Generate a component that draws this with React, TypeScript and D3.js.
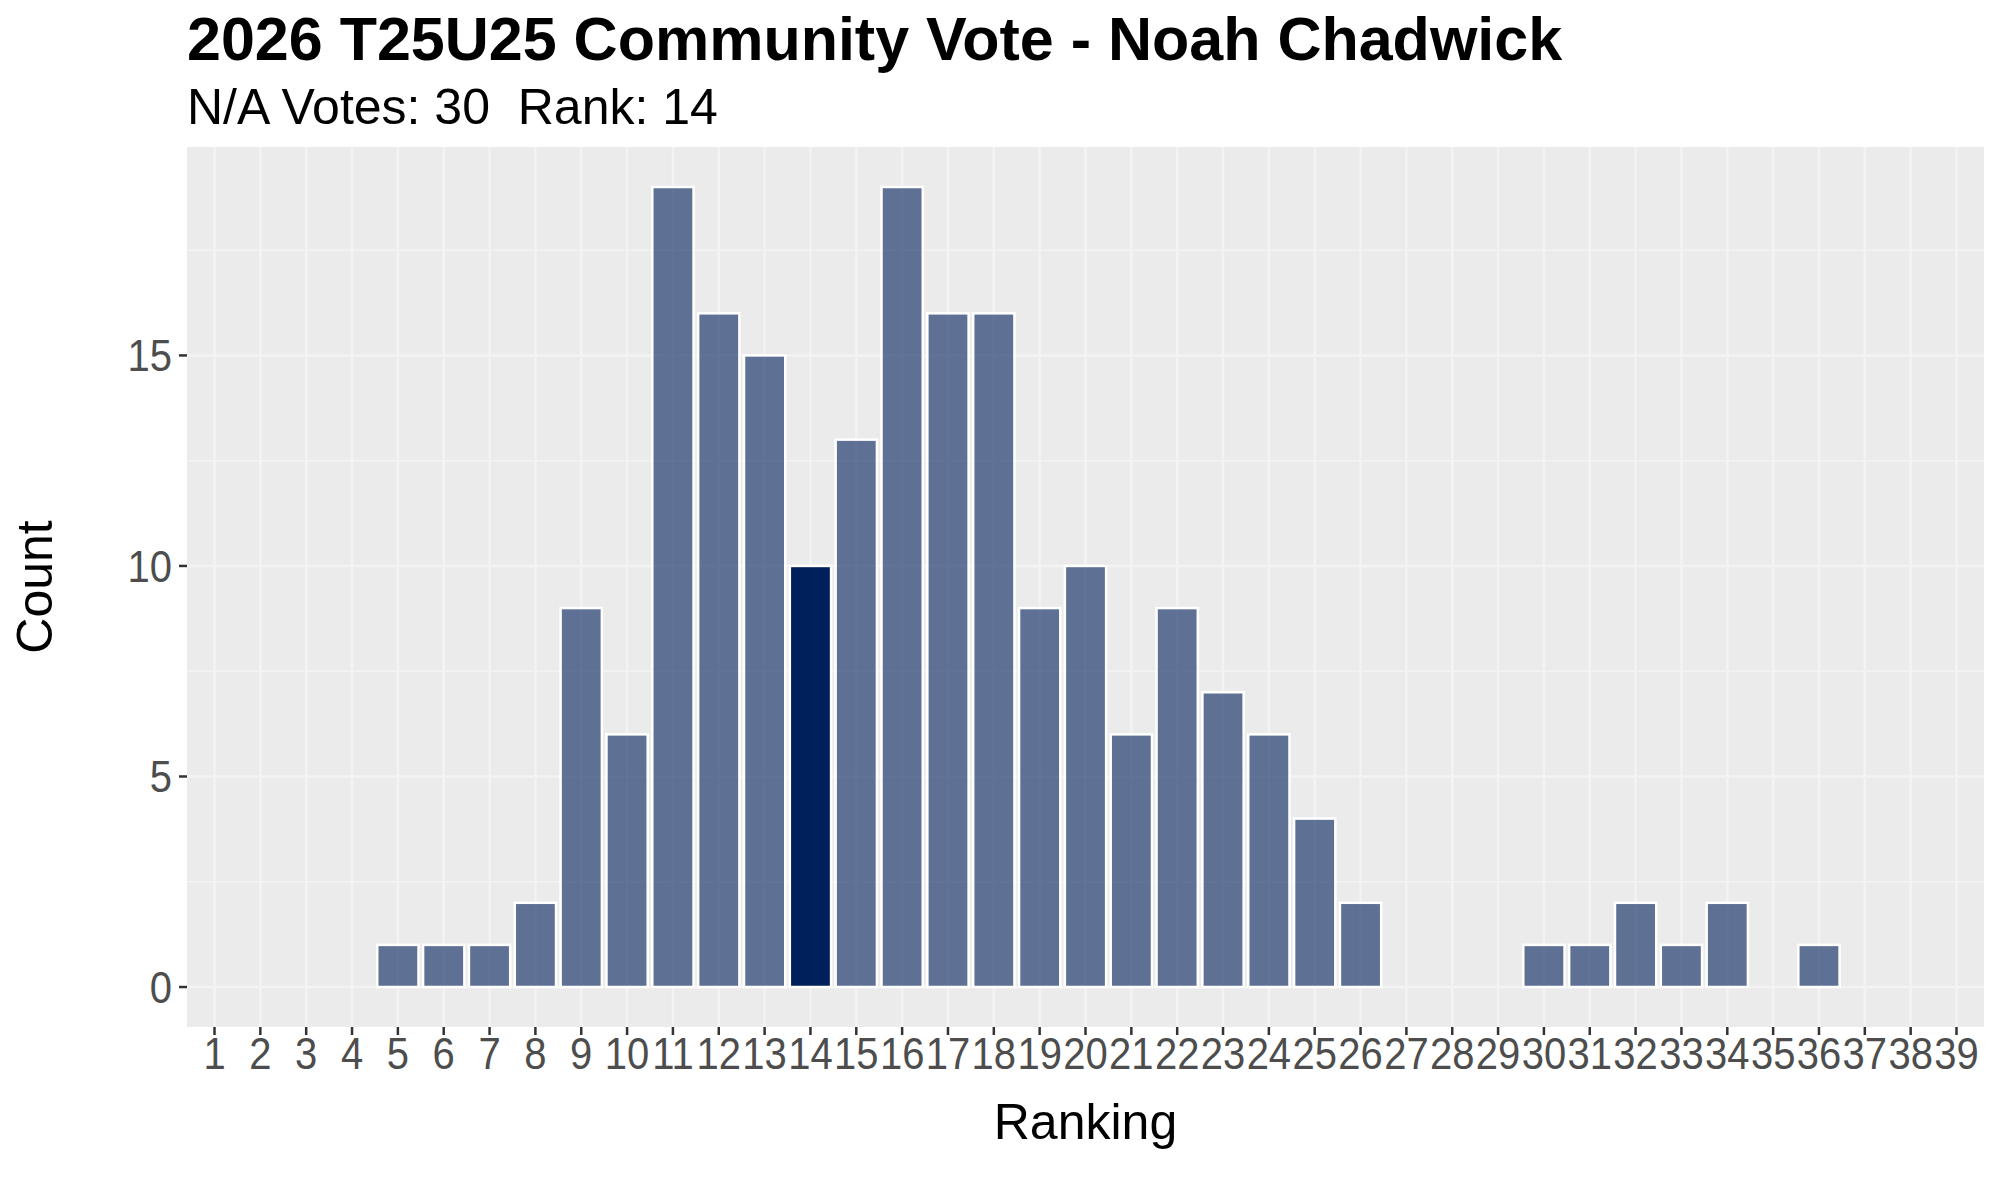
import { range, scaleBand, scaleLinear } from "d3";

const title = "2026 T25U25 Community Vote - Noah Chadwick";
const subtitle = "N/A Votes: 30  Rank: 14";

const rankings = range(1, 40).map(String);
const counts = [
  0, 0, 0, 0, 1, 1, 1, 2, 9, 6, 19, 16, 15, 10, 13, 19, 16, 16, 9, 10, 6, 9, 7, 6, 4, 2, 0, 0, 0, 1, 1,
  2, 1, 2, 0, 1, 0, 0, 0,
];
const highlightRank = "14";
const yTicks = [0, 5, 10, 15];
const yMinor = [2.5, 7.5, 12.5, 17.5];

const width = 2000;
const height = 1200;
const font = "'Liberation Sans', Arial, Helvetica, sans-serif";

export default function App() {
  const left = 187;
  const right = 1984;
  const top = 147;
  const bottom = 1027;

  const x = scaleBand<string>()
    .domain(rankings)
    .range([left, right])
    .paddingInner(0.1)
    .paddingOuter(0.15);
  const yMax = Math.max(...counts);
  const pad = yMax * 0.05;
  const y = scaleLinear().domain([-pad, yMax + pad]).range([bottom, top]);

  const center = (r: string) => (x(r) ?? 0) + x.bandwidth() / 2;

  return (
    <>
      <style>{"body{margin:0}"}</style>
      <svg width={width} height={height} style={{ display: "block", fontFamily: font }}>
        <rect width={width} height={height} fill="#ffffff" />
        <text x={187} y={60} fontSize={61} fontWeight="bold" fill="#000">
          {title}
        </text>
        <text x={187} y={124} fontSize={50} fill="#000" style={{ whiteSpace: "pre" }}>
          {subtitle}
        </text>

        <rect x={left} y={top} width={right - left} height={bottom - top} fill="#EBEBEB" />
        {yMinor.map((v) => (
          <line key={"m" + v} x1={left} x2={right} y1={y(v)} y2={y(v)} stroke="#F3F3F3" strokeWidth={1.5} />
        ))}
        {yTicks.map((v) => (
          <line key={"g" + v} x1={left} x2={right} y1={y(v)} y2={y(v)} stroke="#F3F3F3" strokeWidth={2.5} />
        ))}
        {rankings.map((r) => (
          <line key={"v" + r} x1={center(r)} x2={center(r)} y1={top} y2={bottom} stroke="#F3F3F3" strokeWidth={2.5} />
        ))}

        {rankings.map((r, i) =>
          counts[i] > 0 ? (
            <rect
              key={"b" + r}
              x={x(r)}
              y={y(counts[i])}
              width={x.bandwidth()}
              height={y(0) - y(counts[i])}
              fill="#00205B"
              fillOpacity={r === highlightRank ? 1 : 0.6}
              stroke="#ffffff"
              strokeWidth={2.5}
            />
          ) : null
        )}

        {yTicks.map((v) => (
          <g key={"yt" + v}>
            <line x1={left - 8} x2={left} y1={y(v)} y2={y(v)} stroke="#333333" strokeWidth={2.5} />
            <text
              transform={`translate(${left - 15},${y(v)}) scale(1,1.1)`}
              dy="0.36em"
              textAnchor="end"
              fontSize={40}
              fill="#4D4D4D"
            >
              {v}
            </text>
          </g>
        ))}
        {rankings.map((r) => (
          <g key={"xt" + r}>
            <line x1={center(r)} x2={center(r)} y1={bottom} y2={bottom + 8} stroke="#333333" strokeWidth={2.5} />
            <text
              transform={`translate(${center(r)},1069) scale(1,1.1)`}
              textAnchor="middle"
              fontSize={40}
              fill="#4D4D4D"
            >
              {r}
            </text>
          </g>
        ))}

        <text x={(left + right) / 2} y={1139} textAnchor="middle" fontSize={50} fill="#000">
          Ranking
        </text>
        <text
          transform={`translate(52,${(top + bottom) / 2}) rotate(-90)`}
          textAnchor="middle"
          fontSize={50}
          fill="#000"
        >
          Count
        </text>
      </svg>
    </>
  );
}
